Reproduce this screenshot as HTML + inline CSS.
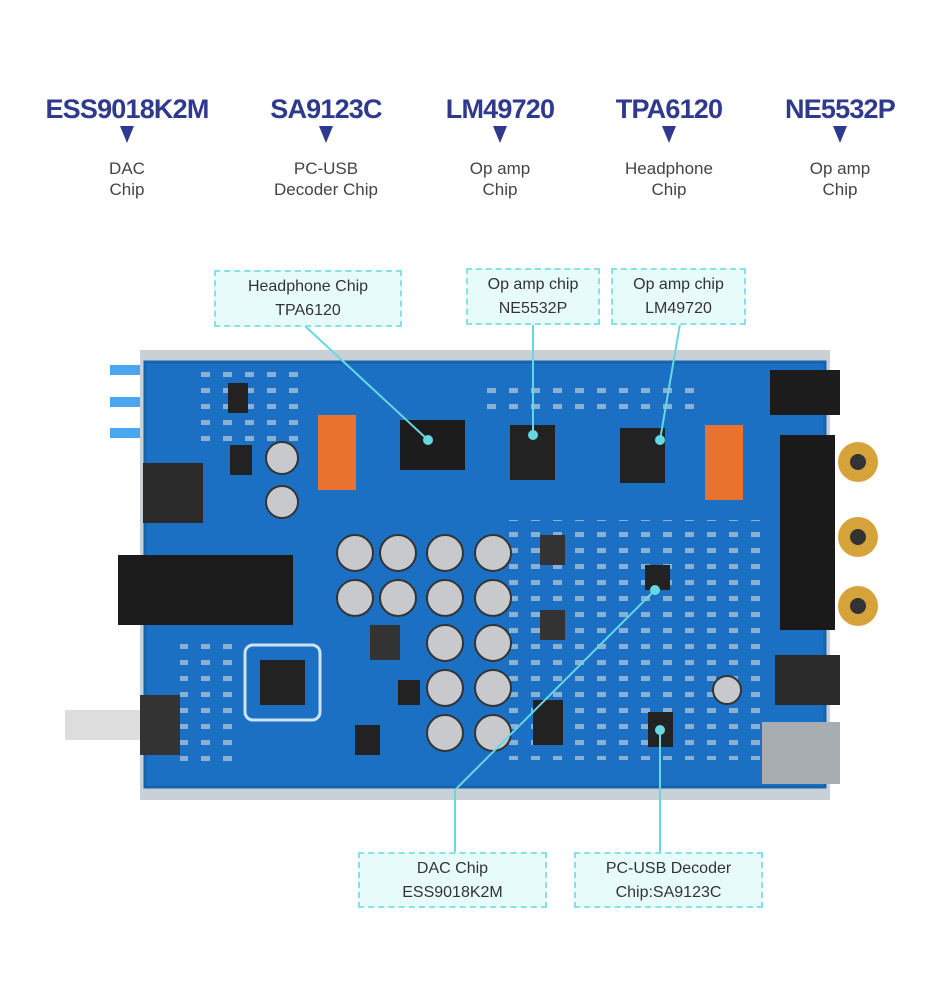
<!DOCTYPE html>
<html><head><meta charset="utf-8"><style>
body{margin:0;background:#fff;width:939px;height:1000px;overflow:hidden;position:relative;font-family:"Liberation Sans",sans-serif}
.h{position:absolute;top:94px;font-size:27px;font-weight:bold;color:#2f3a8f;text-align:center;width:200px;letter-spacing:-0.8px}
.t{position:absolute;top:126px;width:0;height:0;border-left:7px solid transparent;border-right:7px solid transparent;border-top:17px solid #2f3a8f}
.s{position:absolute;top:158px;font-size:17px;color:#444;text-align:center;width:200px;line-height:21px}
.b{position:absolute;background:#e8fbfb;border:2px dashed #86e2e8;font-size:16px;color:#333;text-align:center;line-height:24px;box-sizing:border-box;padding-top:3px}
</style></head><body>
<div class="h" style="left:27px">ESS9018K2M</div><div class="t" style="left:120px"></div><div class="s" style="left:27px">DAC<br>Chip</div>
<div class="h" style="left:226px">SA9123C</div><div class="t" style="left:319px"></div><div class="s" style="left:226px">PC-USB<br>Decoder Chip</div>
<div class="h" style="left:400px">LM49720</div><div class="t" style="left:493px"></div><div class="s" style="left:400px">Op amp<br>Chip</div>
<div class="h" style="left:569px">TPA6120</div><div class="t" style="left:662px"></div><div class="s" style="left:569px">Headphone<br>Chip</div>
<div class="h" style="left:740px">NE5532P</div><div class="t" style="left:833px"></div><div class="s" style="left:740px">Op amp<br>Chip</div>

<svg style="position:absolute;left:0;top:0" width="939" height="1000">
<defs><pattern id="p" width="22" height="16" patternUnits="userSpaceOnUse"><rect x="3" y="4" width="9" height="5" fill="#e4e4e4" opacity="0.55"/></pattern></defs>
<rect x="140" y="350" width="690" height="450" fill="#c9d0d6"/>
<rect x="145" y="362" width="680" height="425" fill="#1b70c4"/>
<rect x="500" y="520" width="270" height="240" fill="url(#p)"/>
<rect x="180" y="640" width="60" height="130" fill="url(#p)"/>
<rect x="200" y="370" width="110" height="80" fill="url(#p)"/>
<rect x="480" y="380" width="220" height="40" fill="url(#p)"/>
<rect x="145" y="362" width="680" height="425" fill="none" stroke="#1562ad" stroke-width="3"/>
<rect x="110" y="365" width="30" height="10" fill="#49a6ef"/><rect x="110" y="397" width="30" height="10" fill="#49a6ef"/><rect x="110" y="428" width="30" height="10" fill="#49a6ef"/>
<rect x="143" y="463" width="60" height="60" fill="#2a2a2a"/>
<rect x="118" y="555" width="175" height="70" fill="#1b1b1b"/>
<rect x="140" y="695" width="40" height="60" fill="#333"/>
<rect x="65" y="710" width="75" height="30" fill="#ddd"/>
<rect x="245" y="645" width="75" height="75" rx="8" fill="none" stroke="#cfe3f7" stroke-width="3"/>
<rect x="260" y="660" width="45" height="45" fill="#222"/>
<rect x="318" y="415" width="38" height="75" fill="#e8722e"/>
<rect x="705" y="425" width="38" height="75" fill="#e8722e"/>
<rect x="400" y="420" width="65" height="50" fill="#1c1c1c"/>
<rect x="510" y="425" width="45" height="55" fill="#222"/>
<rect x="620" y="428" width="45" height="55" fill="#222"/>
<rect x="645" y="565" width="25" height="25" fill="#222"/>
<rect x="648" y="712" width="25" height="35" fill="#222"/>
<rect x="533" y="700" width="30" height="45" fill="#222"/>
<rect x="370" y="625" width="30" height="35" fill="#333"/>
<rect x="540" y="535" width="25" height="30" fill="#333"/><rect x="540" y="610" width="25" height="30" fill="#333"/>
<rect x="228" y="383" width="20" height="30" fill="#222"/><rect x="230" y="445" width="22" height="30" fill="#222"/>
<rect x="398" y="680" width="22" height="25" fill="#222"/><rect x="355" y="725" width="25" height="30" fill="#222"/>
<g fill="#c7c9cc" stroke="#333" stroke-width="2">
<circle cx="282" cy="458" r="16"/><circle cx="282" cy="502" r="16"/>
<circle cx="355" cy="553" r="18"/><circle cx="398" cy="553" r="18"/><circle cx="445" cy="553" r="18"/><circle cx="493" cy="553" r="18"/>
<circle cx="355" cy="598" r="18"/><circle cx="398" cy="598" r="18"/><circle cx="445" cy="598" r="18"/><circle cx="493" cy="598" r="18"/>
<circle cx="445" cy="643" r="18"/><circle cx="493" cy="643" r="18"/>
<circle cx="445" cy="688" r="18"/><circle cx="493" cy="688" r="18"/>
<circle cx="445" cy="733" r="18"/><circle cx="493" cy="733" r="18"/>
<circle cx="727" cy="690" r="14"/>
</g>
<rect x="770" y="370" width="70" height="45" fill="#1c1c1c"/>
<rect x="780" y="435" width="55" height="195" fill="#1a1a1a"/>
<circle cx="858" cy="462" r="20" fill="#d6a23a"/><circle cx="858" cy="537" r="20" fill="#d6a23a"/><circle cx="858" cy="606" r="20" fill="#d6a23a"/>
<circle cx="858" cy="462" r="8" fill="#333"/><circle cx="858" cy="537" r="8" fill="#333"/><circle cx="858" cy="606" r="8" fill="#333"/>
<rect x="775" y="655" width="65" height="50" fill="#2a2a2a"/>
<rect x="762" y="722" width="78" height="62" fill="#a8adb2"/>
<g stroke="#66d8e2" stroke-width="2" fill="#66d8e2">
<line x1="305" y1="326" x2="428" y2="440"/><circle cx="428" cy="440" r="4"/>
<line x1="533" y1="324" x2="533" y2="435"/><circle cx="533" cy="435" r="4"/>
<line x1="680" y1="324" x2="660" y2="440"/><circle cx="660" cy="440" r="4"/>
<line x1="455" y1="852" x2="455" y2="790"/><line x1="455" y1="790" x2="655" y2="590"/><circle cx="655" cy="590" r="4"/>
<line x1="660" y1="852" x2="660" y2="730"/><circle cx="660" cy="730" r="4"/>
</g>
</svg>
<div class="b" style="left:214px;top:270px;width:188px;height:57px">Headphone Chip<br>TPA6120</div>
<div class="b" style="left:466px;top:268px;width:134px;height:57px">Op amp chip<br>NE5532P</div>
<div class="b" style="left:611px;top:268px;width:135px;height:57px">Op amp chip<br>LM49720</div>
<div class="b" style="left:358px;top:852px;width:189px;height:56px">DAC Chip<br>ESS9018K2M</div>
<div class="b" style="left:574px;top:852px;width:189px;height:56px">PC-USB Decoder<br>Chip:SA9123C</div>
</body></html>
